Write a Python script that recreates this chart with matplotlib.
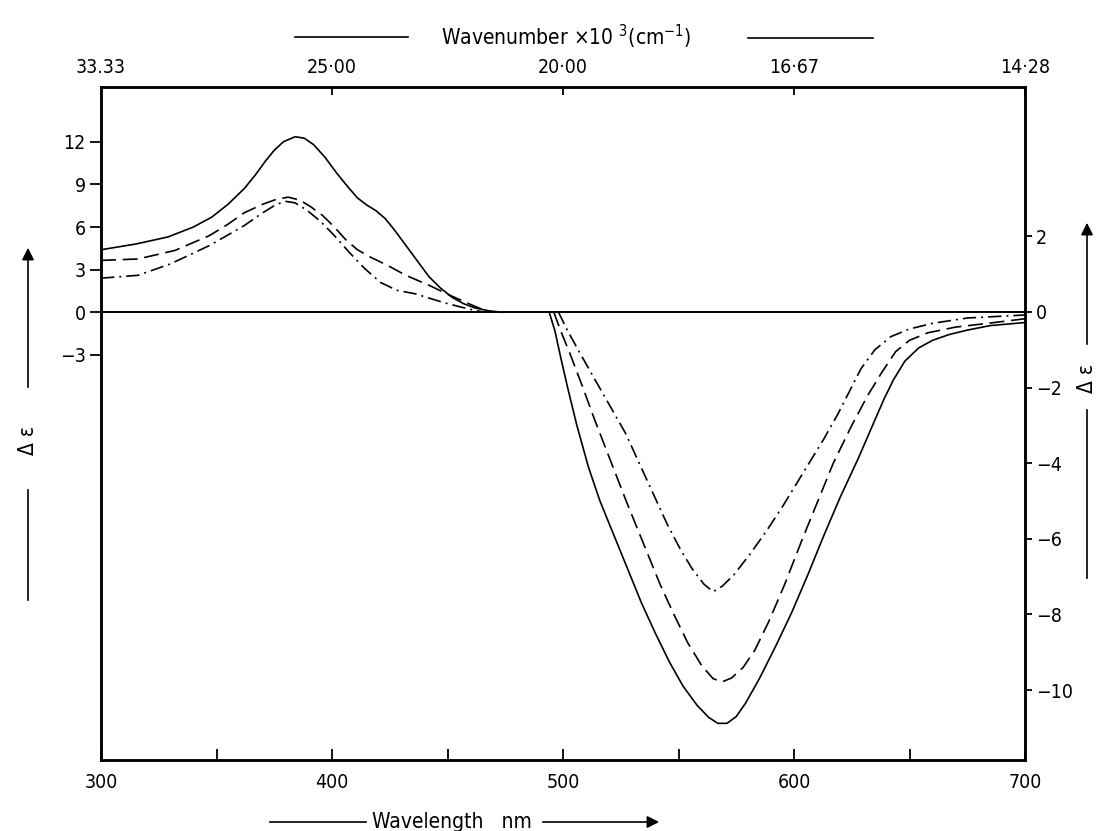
import matplotlib
matplotlib.use('Agg')
import matplotlib.pyplot as plt
from matplotlib.lines import Line2D

plt.rcParams['font.family'] = ['DejaVu Sans']
plt.rcParams['font.stretch'] = 'condensed'

# positive band, read on the left axis (delta epsilon)
wl_solid_pos = [300, 315, 329, 340, 348, 355, 362, 367, 371, 375, 379, 384, 388, 392, 397, 402, 407, 411,
                415, 419, 423, 427, 432, 437, 442, 447, 452, 457, 462, 468, 474]
solid_pos = [4.4, 4.8, 5.3, 6.0, 6.7, 7.6, 8.7, 9.7, 10.6, 11.4, 12.0, 12.35, 12.25, 11.8, 10.9, 9.8, 8.8,
             8.05, 7.55, 7.15, 6.6, 5.8, 4.7, 3.6, 2.5, 1.7, 1.05, 0.6, 0.3, 0.1, 0.0]
wl_dash_pos = [300, 316, 332, 347, 355, 362, 370, 376, 381, 386, 391, 396, 401, 406, 411, 417, 424, 432,
               442, 451, 460, 468]
dash_pos = [3.65, 3.75, 4.35, 5.4, 6.2, 7.0, 7.6, 7.95, 8.1, 7.9, 7.4, 6.8, 6.0, 5.1, 4.4, 3.85, 3.3, 2.6,
            1.9, 1.2, 0.55, 0.0]
wl_dd_pos = [300, 316, 330, 347, 362, 370, 376, 380, 384, 389, 395, 401, 407, 414, 421, 428, 436, 448, 455,
             460, 466]
dd_pos = [2.4, 2.6, 3.4, 4.7, 6.1, 7.0, 7.6, 7.8, 7.7, 7.2, 6.4, 5.4, 4.3, 3.1, 2.1, 1.55, 1.3, 0.7, 0.4,
          0.2, 0.0]

# negative band, read on the right axis
wl_solid_neg = [494, 496.5, 499, 502, 506, 511, 516, 522, 528, 534, 540, 546, 552, 558, 563, 567, 571, 575,
                579, 585, 592, 599, 606, 613, 620, 628, 634, 639, 643, 648, 654, 660, 667, 675, 685, 700]
solid_neg = [0, -0.5, -1.2, -2.0, -3.0, -4.1, -5.0, -5.9, -6.8, -7.7, -8.5, -9.25, -9.9, -10.4, -10.72,
             -10.88, -10.88, -10.7, -10.35, -9.7, -8.85, -7.95, -6.95, -5.9, -4.9, -3.85, -3.0, -2.3, -1.8,
             -1.3, -0.95, -0.75, -0.6, -0.48, -0.36, -0.28]
wl_dash_neg = [496, 499, 503, 508, 514, 521, 528, 535, 542, 548, 554, 560, 565, 569, 573, 578, 583, 589,
               596, 603, 610, 617, 625, 632, 638, 644, 650, 658, 670, 684, 700]
dash_neg = [0, -0.5, -1.1, -1.9, -2.9, -4.0, -5.1, -6.15, -7.2, -8.0, -8.75, -9.35, -9.7, -9.78, -9.68,
            -9.4, -8.95, -8.2, -7.2, -6.1, -5.05, -4.0, -3.0, -2.2, -1.6, -1.05, -0.75, -0.55, -0.4, -0.3,
            -0.18]
wl_dd_neg = [498, 502, 507, 513, 520, 527, 533, 539, 545, 551, 556, 561, 565, 569, 574, 581, 588, 595, 601,
             607, 613, 619, 624, 629, 635, 642, 650, 660, 675, 700]
dd_neg = [0, -0.5, -1.05, -1.7, -2.45, -3.2, -4.0, -4.8, -5.6, -6.3, -6.8, -7.2, -7.4, -7.25, -6.95, -6.4,
          -5.8, -5.15, -4.55, -3.95, -3.35, -2.7, -2.1, -1.5, -1.0, -0.65, -0.45, -0.3, -0.16, -0.08]

wl_ticks = [300, 400, 500, 600, 700]
wl_minor = [350, 450, 550, 650]
wavenumber_labels = ['33.33', '25·00', '20·00', '16·67', '14·28']
left_ticks = [12, 9, 6, 3, 0, -3]
right_ticks = [2, 0, -2, -4, -6, -8, -10]

dash_style = (0, (9, 4))
dd_style = (0, (8, 3, 1.2, 3))

fig = plt.figure(figsize=(10.98, 8.31), dpi=100)
ax = fig.add_axes([101 / 1098, 1 - 760 / 831, 924 / 1098, 673 / 831])
ax2 = ax.twinx()

ax.plot(wl_solid_pos, solid_pos, color='black', lw=1.2, ls='-')
ax.plot(wl_dash_pos, dash_pos, color='black', lw=1.2, ls=dash_style)
ax.plot(wl_dd_pos, dd_pos, color='black', lw=1.2, ls=dd_style)
ax2.plot(wl_solid_neg, solid_neg, color='black', lw=1.2, ls='-')
ax2.plot(wl_dash_neg, dash_neg, color='black', lw=1.2, ls=dash_style)
ax2.plot(wl_dd_neg, dd_neg, color='black', lw=1.2, ls=dd_style)
ax.axhline(0, color='black', lw=1.4)

ax.set_xlim(300, 700)
ax.set_ylim(-31.5, 15.85)
ax2.set_ylim(-11.85, 5.95)

ax.set_xticks(wl_ticks)
ax.set_xticks(wl_minor, minor=True)
ax.tick_params(axis='x', which='both', direction='in', length=8, width=1.3, labelsize=14, pad=9)
ax.set_yticks(left_ticks)
ax.tick_params(axis='y', direction='out', length=8, width=1.3, labelsize=14, pad=3)
ax2.set_yticks(right_ticks)
ax2.tick_params(axis='y', direction='out', length=5, width=1.3, labelsize=14, pad=3)

for a in (ax, ax2):
    for s in a.spines.values():
        s.set_linewidth(1.8)

top = ax.secondary_xaxis('top')
top.set_xticks(wl_ticks, labels=wavenumber_labels)
top.tick_params(direction='in', length=6, width=1.3, labelsize=14, pad=7)

# axis titles with their rules and arrows, as in the printed figure
def fx(px):
    return px / 1098


def fy(py):
    return 1 - py / 831


fig.text(fx(566), fy(37), r'Wavenumber $\times$10 $^{3}$(cm$^{-1}$)', ha='center', va='center', fontsize=15)
fig.add_artist(Line2D([fx(295), fx(408)], [fy(37), fy(37)], color='black', lw=1.2))
fig.add_artist(Line2D([fx(748), fx(873)], [fy(38), fy(38)], color='black', lw=1.2))

fig.text(fx(452), fy(822), 'Wavelength   nm', ha='center', va='center', fontsize=15)
fig.add_artist(Line2D([fx(270), fx(366)], [fy(822), fy(822)], color='black', lw=1.2))
ax.annotate('', xy=(fx(662), fy(822)), xytext=(fx(540), fy(822)), xycoords='figure fraction',
            arrowprops=dict(arrowstyle='-|>', color='black', lw=1.2, mutation_scale=18))

fig.text(fx(28), fy(440), 'Δ ε', rotation=90, ha='center', va='center', fontsize=15)
ax.annotate('', xy=(fx(28), fy(245)), xytext=(fx(28), fy(390)), xycoords='figure fraction',
            arrowprops=dict(arrowstyle='-|>', color='black', lw=1.2, mutation_scale=18))
fig.add_artist(Line2D([fx(28), fx(28)], [fy(490), fy(600)], color='black', lw=1.2))

fig.text(fx(1087), fy(378), 'Δ ε', rotation=90, ha='center', va='center', fontsize=15)
ax.annotate('', xy=(fx(1087), fy(220)), xytext=(fx(1087), fy(347)), xycoords='figure fraction',
            arrowprops=dict(arrowstyle='-|>', color='black', lw=1.2, mutation_scale=18))
fig.add_artist(Line2D([fx(1087), fx(1087)], [fy(410), fy(578)], color='black', lw=1.2))

fig.savefig('out.png', dpi=100)
